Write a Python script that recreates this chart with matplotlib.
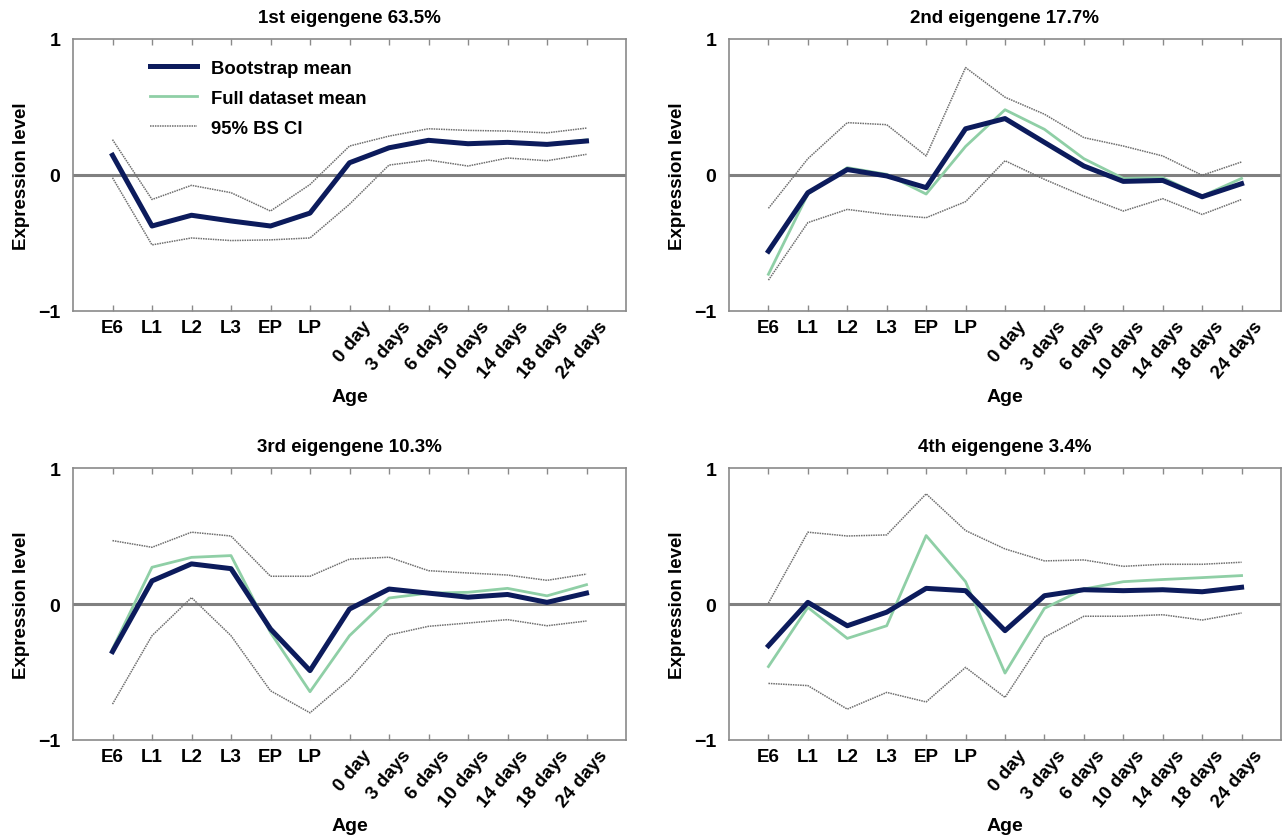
import matplotlib
matplotlib.use('Agg')
import matplotlib.pyplot as plt

plt.rcParams['font.family'] = ['Liberation Sans', 'DejaVu Sans']
plt.rcParams['font.weight'] = 'bold'

ages = ['E6', 'L1', 'L2', 'L3', 'EP', 'LP', '0 day', '3 days', '6 days',
        '10 days', '14 days', '18 days', '24 days']

titles = ['1st eigengene 63.5%', '2nd eigengene 17.7%',
          '3rd eigengene 10.3%', '4th eigengene 3.4%']

# eigengene 1
boot1 = [0.145, -0.375, -0.296, -0.338, -0.375, -0.28, 0.09, 0.20, 0.255, 0.23, 0.24, 0.225, 0.25]
full1 = [0.15, -0.37, -0.30, -0.34, -0.38, -0.285, 0.088, 0.203, 0.258, 0.233, 0.243, 0.228, 0.258]
upper1 = [0.26, -0.18, -0.076, -0.13, -0.265, -0.07, 0.213, 0.286, 0.34, 0.328, 0.323, 0.31, 0.345]
lower1 = [-0.02, -0.514, -0.463, -0.482, -0.477, -0.463, -0.215, 0.073, 0.11, 0.066, 0.125, 0.105, 0.152]

# eigengene 2
boot2 = [-0.56, -0.13, 0.04, -0.007, -0.093, 0.34, 0.415, 0.24, 0.066, -0.047, -0.04, -0.16, -0.064]
full2 = [-0.73, -0.14, 0.054, 0.005, -0.14, 0.21, 0.48, 0.336, 0.12, -0.025, -0.02, -0.155, -0.025]
upper2 = [-0.245, 0.12, 0.385, 0.37, 0.14, 0.79, 0.572, 0.447, 0.275, 0.213, 0.14, -0.002, 0.096]
lower2 = [-0.773, -0.35, -0.253, -0.29, -0.314, -0.196, 0.105, -0.032, -0.155, -0.265, -0.174, -0.29, -0.18]

# eigengene 3
boot3 = [-0.35, 0.17, 0.295, 0.26, -0.184, -0.49, -0.037, 0.11, 0.08, 0.05, 0.07, 0.012, 0.08]
full3 = [-0.33, 0.27, 0.343, 0.356, -0.21, -0.645, -0.233, 0.044, 0.08, 0.086, 0.115, 0.06, 0.142]
upper3 = [0.466, 0.417, 0.528, 0.50, 0.204, 0.204, 0.33, 0.344, 0.245, 0.228, 0.213, 0.174, 0.22]
lower3 = [-0.736, -0.233, 0.047, -0.233, -0.638, -0.80, -0.552, -0.228, -0.164, -0.14, -0.115, -0.16, -0.125]

# eigengene 4
boot4 = [-0.307, 0.012, -0.16, -0.06, 0.115, 0.098, -0.196, 0.061, 0.105, 0.098, 0.105, 0.09, 0.123]
full4 = [-0.46, -0.025, -0.253, -0.16, 0.503, 0.164, -0.508, -0.032, 0.11, 0.164, 0.18, 0.194, 0.209]
upper4 = [0.007, 0.528, 0.50, 0.508, 0.81, 0.54, 0.405, 0.317, 0.324, 0.277, 0.292, 0.292, 0.307]
lower4 = [-0.584, -0.60, -0.773, -0.65, -0.72, -0.466, -0.687, -0.245, -0.09, -0.09, -0.079, -0.118, -0.066]

panels = [(boot1, full1, upper1, lower1), (boot2, full2, upper2, lower2),
          (boot3, full3, upper3, lower3), (boot4, full4, upper4, lower4)]

navy = '#0c1b5c'
green = '#8fcfa6'
ci_gray = '#6e6e6e'
spine_gray = '#8a8a8a'

fig = plt.figure(figsize=(12.83, 8.37), dpi=100)
W, H = 1283, 837
boxes = [(73, 40, 626, 312), (729, 40, 1281, 312),
         (73, 469, 626, 741), (729, 469, 1281, 741)]

x = list(range(1, len(ages) + 1))

for i, ((boot, full, up, lo), (l, t, r, b)) in enumerate(zip(panels, boxes)):
    ax = fig.add_axes([l / W, 1 - b / H, (r - l) / W, (b - t) / H])
    ax.axhline(0, color='#808080', lw=2.2, zorder=1)
    ax.plot(x, up, color=ci_gray, lw=1.1, ls=(0, (1, 0.6)), zorder=2, label='95% BS CI')
    ax.plot(x, lo, color=ci_gray, lw=1.1, ls=(0, (1, 0.6)), zorder=2)
    ax.plot(x, full, color=green, lw=2.0, zorder=3, label='Full dataset mean')
    ax.plot(x, boot, color=navy, lw=3.6, zorder=4, label='Bootstrap mean')

    ax.set_xlim(0, 14)
    ax.set_ylim(-1, 1)
    ax.set_yticks([-1, 0, 1])
    ax.set_yticklabels(['\u22121', '0', '1'], fontsize=14, fontweight='bold')
    ax.tick_params(axis='y', length=0, pad=9)
    ax.set_xticks(x)
    ax.set_xticklabels([])
    ax.tick_params(axis='x', direction='in', length=4, width=1, color=spine_gray,
                   top=True, bottom=True)
    for s in ax.spines.values():
        s.set_color(spine_gray)
        s.set_linewidth(1.2)

    for xi, lab in zip(x, ages):
        if xi <= 6:
            ax.text(xi, -1.06, lab, ha='center', va='top', fontsize=13.5,
                    fontweight='bold')
        else:
            ax.text(xi + 0.3, -1.05, lab, ha='right', va='top', rotation=50,
                    rotation_mode='anchor', fontsize=13.5, fontweight='bold')

    ax.set_title(titles[i], fontsize=13.5, fontweight='bold', pad=12)
    ax.set_ylabel('Expression level', fontsize=13.5, fontweight='bold', labelpad=6)
    ax.text(7, -1.63, 'Age', ha='center', va='center', fontsize=14, fontweight='bold')

    if i == 0:
        handles, labels = ax.get_legend_handles_labels()
        order = [2, 1, 0]
        ax.legend([handles[k] for k in order], [labels[k] for k in order],
                  loc='upper left', bbox_to_anchor=(0.11, 0.985), frameon=False,
                  handlelength=2.5, labelspacing=0.7,
                  prop={'weight': 'bold', 'size': 13.3})

fig.savefig('out.png', dpi=100)
